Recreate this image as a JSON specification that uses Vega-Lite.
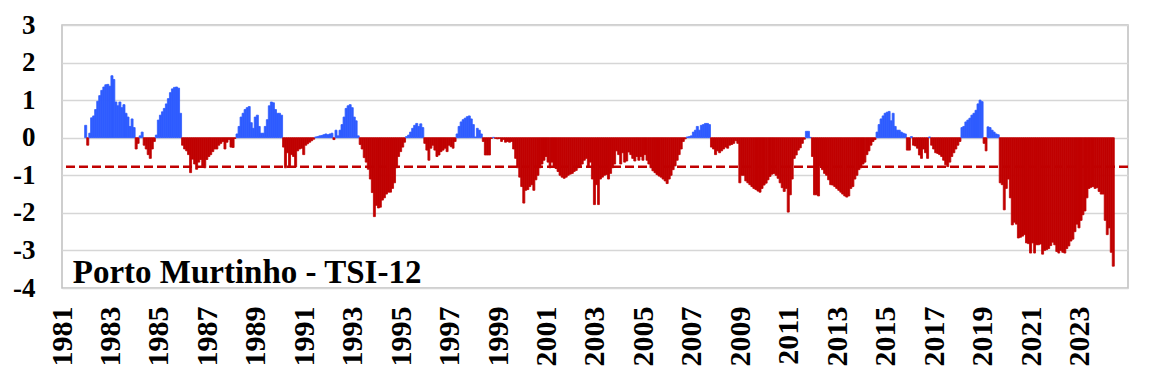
{
  "$schema": "https://vega.github.io/schema/vega-lite/v6.json",
  "width": 1066,
  "height": 263,
  "autosize": {"type": "none"},
  "padding": {"left": 62, "top": 25, "right": 22, "bottom": 95},
  "background": "white",
  "config": {
    "view": {"stroke": "#bfbfbf", "strokeWidth": 1.5},
    "axis": {"labelFont": "Liberation Serif", "labelFontWeight": "bold", "labelColor": "#000000"},
    "axisY": {
      "title": null, "labelFontSize": 27, "labelPadding": 27, "labelOverlap": false,
      "ticks": false, "domain": false, "grid": true, "gridColor": "#d6d6d6", "gridWidth": 1.5, "labelBound": false, "labelFlush": false
    }
  },
  "layer": [
    {
      "data": {"values": [{"v": -0.77}]},
      "mark": {"type": "rule", "color": "#c00000", "strokeDash": [9, 4], "strokeWidth": 2.5},
      "encoding": {
        "y": {
          "field": "v", "type": "quantitative",
          "scale": {"domain": [-4, 3], "nice": false, "zero": false},
          "axis": {"values": [-4, -3, -2, -1, 0, 1, 2, 3], "labelExpr": "'' + datum.value", "labelOverlap": false}
        }
      }
    },
    {
      "data": {
        "format": {"parse": {"d": "utc:'%Y-%m'"}},
        "values": [
{"d":"1981-12","v":0.33},
{"d":"1982-01","v":-0.2},{"d":"1982-02","v":0.12},{"d":"1982-03","v":0.53},{"d":"1982-04","v":0.58},{"d":"1982-05","v":0.75},{"d":"1982-06","v":0.97},{"d":"1982-07","v":1.12},{"d":"1982-08","v":1.26},{"d":"1982-09","v":1.35},{"d":"1982-10","v":1.41},{"d":"1982-11","v":1.42},{"d":"1982-12","v":1.37},
{"d":"1983-01","v":1.65},{"d":"1983-02","v":1.55},{"d":"1983-03","v":0.95},{"d":"1983-04","v":0.85},{"d":"1983-05","v":0.95},{"d":"1983-06","v":0.8},{"d":"1983-07","v":0.88},{"d":"1983-08","v":0.65},{"d":"1983-09","v":0.55},{"d":"1983-10","v":0.3},{"d":"1983-11","v":0.5},{"d":"1983-12","v":0.27},
{"d":"1984-01","v":-0.3},{"d":"1984-02","v":-0.15},{"d":"1984-03","v":0.05},{"d":"1984-04","v":0.15},{"d":"1984-05","v":-0.2},{"d":"1984-06","v":-0.3},{"d":"1984-07","v":-0.45},{"d":"1984-08","v":-0.55},{"d":"1984-09","v":-0.3},{"d":"1984-10","v":-0.1},{"d":"1984-11","v":0.07},{"d":"1984-12","v":0.47},
{"d":"1985-01","v":0.6},{"d":"1985-02","v":0.69},{"d":"1985-03","v":0.78},{"d":"1985-04","v":0.9},{"d":"1985-05","v":1.04},{"d":"1985-06","v":1.2},{"d":"1985-07","v":1.3},{"d":"1985-08","v":1.34},{"d":"1985-09","v":1.35},{"d":"1985-10","v":1.32},{"d":"1985-11","v":0.65},{"d":"1985-12","v":-0.2},
{"d":"1986-01","v":-0.3},{"d":"1986-02","v":-0.35},{"d":"1986-03","v":-0.45},{"d":"1986-04","v":-0.93},{"d":"1986-05","v":-0.57},{"d":"1986-06","v":-0.7},{"d":"1986-07","v":-0.84},{"d":"1986-08","v":-0.65},{"d":"1986-09","v":-0.58},{"d":"1986-10","v":-0.75},{"d":"1986-11","v":-0.8},{"d":"1986-12","v":-0.58},
{"d":"1987-01","v":-0.5},{"d":"1987-02","v":-0.45},{"d":"1987-03","v":-0.37},{"d":"1987-04","v":-0.3},{"d":"1987-05","v":-0.3},{"d":"1987-06","v":-0.2},{"d":"1987-07","v":-0.15},{"d":"1987-08","v":-0.1},{"d":"1987-09","v":-0.3},{"d":"1987-10","v":-0.12},{"d":"1987-11","v":-0.05},{"d":"1987-12","v":-0.25},
{"d":"1988-01","v":-0.26},{"d":"1988-02","v":-0.02},{"d":"1988-03","v":0.1},{"d":"1988-04","v":0.3},{"d":"1988-05","v":0.55},{"d":"1988-06","v":0.65},{"d":"1988-07","v":0.75},{"d":"1988-08","v":0.8},{"d":"1988-09","v":0.83},{"d":"1988-10","v":0.4},{"d":"1988-11","v":0.25},{"d":"1988-12","v":0.55},
{"d":"1989-01","v":0.6},{"d":"1989-02","v":0.3},{"d":"1989-03","v":0.12},{"d":"1989-04","v":0.12},{"d":"1989-05","v":0.3},{"d":"1989-06","v":0.48},{"d":"1989-07","v":0.85},{"d":"1989-08","v":0.95},{"d":"1989-09","v":0.93},{"d":"1989-10","v":0.75},{"d":"1989-11","v":0.65},{"d":"1989-12","v":0.65},
{"d":"1990-01","v":0.6},{"d":"1990-02","v":-0.25},{"d":"1990-03","v":-0.8},{"d":"1990-04","v":-0.4},{"d":"1990-05","v":-0.78},{"d":"1990-06","v":-0.45},{"d":"1990-07","v":-0.5},{"d":"1990-08","v":-0.78},{"d":"1990-09","v":-0.35},{"d":"1990-10","v":-0.3},{"d":"1990-11","v":-0.28},{"d":"1990-12","v":-0.45},
{"d":"1991-01","v":-0.2},{"d":"1991-02","v":-0.16},{"d":"1991-03","v":-0.12},{"d":"1991-04","v":-0.08},{"d":"1991-05","v":-0.04},{"d":"1991-06","v":0.02},{"d":"1991-07","v":0.03},{"d":"1991-08","v":0.05},{"d":"1991-09","v":0.06},{"d":"1991-10","v":0.08},{"d":"1991-11","v":0.1},{"d":"1991-12","v":0.08},
{"d":"1992-01","v":0.1},{"d":"1992-02","v":0.12},{"d":"1992-03","v":-0.05},{"d":"1992-04","v":0.2},{"d":"1992-05","v":0.05},{"d":"1992-06","v":0.2},{"d":"1992-07","v":0.35},{"d":"1992-08","v":0.55},{"d":"1992-09","v":0.78},{"d":"1992-10","v":0.85},{"d":"1992-11","v":0.88},{"d":"1992-12","v":0.8},
{"d":"1993-01","v":0.55},{"d":"1993-02","v":0.45},{"d":"1993-03","v":0.05},{"d":"1993-04","v":-0.18},{"d":"1993-05","v":-0.3},{"d":"1993-06","v":-0.53},{"d":"1993-07","v":-0.65},{"d":"1993-08","v":-0.84},{"d":"1993-09","v":-1.1},{"d":"1993-10","v":-1.46},{"d":"1993-11","v":-2.1},{"d":"1993-12","v":-1.8},
{"d":"1994-01","v":-1.87},{"d":"1994-02","v":-1.85},{"d":"1994-03","v":-1.66},{"d":"1994-04","v":-1.6},{"d":"1994-05","v":-1.5},{"d":"1994-06","v":-1.45},{"d":"1994-07","v":-1.45},{"d":"1994-08","v":-1.35},{"d":"1994-09","v":-1.2},{"d":"1994-10","v":-0.8},{"d":"1994-11","v":-0.5},{"d":"1994-12","v":-0.37},
{"d":"1995-01","v":-0.25},{"d":"1995-02","v":-0.12},{"d":"1995-03","v":0.03},{"d":"1995-04","v":0.07},{"d":"1995-05","v":0.15},{"d":"1995-06","v":0.25},{"d":"1995-07","v":0.33},{"d":"1995-08","v":0.38},{"d":"1995-09","v":0.3},{"d":"1995-10","v":0.37},{"d":"1995-11","v":0.27},{"d":"1995-12","v":-0.15},
{"d":"1996-01","v":-0.33},{"d":"1996-02","v":-0.6},{"d":"1996-03","v":-0.28},{"d":"1996-04","v":-0.2},{"d":"1996-05","v":-0.33},{"d":"1996-06","v":-0.5},{"d":"1996-07","v":-0.46},{"d":"1996-08","v":-0.37},{"d":"1996-09","v":-0.33},{"d":"1996-10","v":-0.28},{"d":"1996-11","v":-0.37},{"d":"1996-12","v":-0.2},
{"d":"1997-01","v":-0.24},{"d":"1997-02","v":-0.28},{"d":"1997-03","v":-0.1},{"d":"1997-04","v":0.1},{"d":"1997-05","v":0.3},{"d":"1997-06","v":0.42},{"d":"1997-07","v":0.48},{"d":"1997-08","v":0.52},{"d":"1997-09","v":0.56},{"d":"1997-10","v":0.58},{"d":"1997-11","v":0.5},{"d":"1997-12","v":0.35},
{"d":"1998-01","v":0.02},{"d":"1998-02","v":0.25},{"d":"1998-03","v":0.2},{"d":"1998-04","v":0.1},{"d":"1998-05","v":-0.1},{"d":"1998-06","v":-0.46},{"d":"1998-07","v":-0.46},{"d":"1998-08","v":-0.46},{"d":"1998-09","v":-0.02},{"d":"1998-10","v":0.01},{"d":"1998-11","v":-0.02},{"d":"1998-12","v":-0.03},
{"d":"1999-01","v":-0.02},{"d":"1999-02","v":-0.1},{"d":"1999-03","v":-0.05},{"d":"1999-04","v":-0.12},{"d":"1999-05","v":-0.1},{"d":"1999-06","v":-0.12},{"d":"1999-07","v":-0.1},{"d":"1999-08","v":-0.3},{"d":"1999-09","v":-0.55},{"d":"1999-10","v":-0.8},{"d":"1999-11","v":-1.05},{"d":"1999-12","v":-1.3},
{"d":"2000-01","v":-1.74},{"d":"2000-02","v":-1.4},{"d":"2000-03","v":-1.38},{"d":"2000-04","v":-1.3},{"d":"2000-05","v":-1.25},{"d":"2000-06","v":-1.4},{"d":"2000-07","v":-1.12},{"d":"2000-08","v":-1.0},{"d":"2000-09","v":-0.8},{"d":"2000-10","v":-0.7},{"d":"2000-11","v":-0.6},{"d":"2000-12","v":-0.5},
{"d":"2001-01","v":-0.65},{"d":"2001-02","v":-0.8},{"d":"2001-03","v":-0.65},{"d":"2001-04","v":-0.78},{"d":"2001-05","v":-0.82},{"d":"2001-06","v":-0.9},{"d":"2001-07","v":-1.0},{"d":"2001-08","v":-1.05},{"d":"2001-09","v":-1.08},{"d":"2001-10","v":-1.05},{"d":"2001-11","v":-1.0},{"d":"2001-12","v":-0.97},
{"d":"2002-01","v":-0.95},{"d":"2002-02","v":-0.9},{"d":"2002-03","v":-0.87},{"d":"2002-04","v":-0.8},{"d":"2002-05","v":-0.75},{"d":"2002-06","v":-0.7},{"d":"2002-07","v":-0.6},{"d":"2002-08","v":-0.55},{"d":"2002-09","v":-0.77},{"d":"2002-10","v":-0.65},{"d":"2002-11","v":-1.1},{"d":"2002-12","v":-1.78},
{"d":"2003-01","v":-1.25},{"d":"2003-02","v":-1.78},{"d":"2003-03","v":-1.1},{"d":"2003-04","v":-1.05},{"d":"2003-05","v":-1.0},{"d":"2003-06","v":-0.98},{"d":"2003-07","v":-1.1},{"d":"2003-08","v":-0.95},{"d":"2003-09","v":-0.8},{"d":"2003-10","v":-0.7},{"d":"2003-11","v":-0.35},{"d":"2003-12","v":-0.45},
{"d":"2004-01","v":-0.7},{"d":"2004-02","v":-0.4},{"d":"2004-03","v":-0.65},{"d":"2004-04","v":-0.62},{"d":"2004-05","v":-0.38},{"d":"2004-06","v":-0.45},{"d":"2004-07","v":-0.55},{"d":"2004-08","v":-0.62},{"d":"2004-09","v":-0.5},{"d":"2004-10","v":-0.6},{"d":"2004-11","v":-0.5},{"d":"2004-12","v":-0.6},
{"d":"2005-01","v":-0.45},{"d":"2005-02","v":-0.6},{"d":"2005-03","v":-0.7},{"d":"2005-04","v":-0.8},{"d":"2005-05","v":-0.88},{"d":"2005-06","v":-0.93},{"d":"2005-07","v":-0.98},{"d":"2005-08","v":-1.02},{"d":"2005-09","v":-1.05},{"d":"2005-10","v":-1.1},{"d":"2005-11","v":-1.15},{"d":"2005-12","v":-1.22},
{"d":"2006-01","v":-1.1},{"d":"2006-02","v":-1.0},{"d":"2006-03","v":-0.85},{"d":"2006-04","v":-0.75},{"d":"2006-05","v":-0.6},{"d":"2006-06","v":-0.45},{"d":"2006-07","v":-0.3},{"d":"2006-08","v":-0.1},{"d":"2006-09","v":-0.03},{"d":"2006-10","v":0.02},{"d":"2006-11","v":0.03},{"d":"2006-12","v":0.05},
{"d":"2007-01","v":0.15},{"d":"2007-02","v":0.2},{"d":"2007-03","v":0.3},{"d":"2007-04","v":0.2},{"d":"2007-05","v":0.33},{"d":"2007-06","v":0.35},{"d":"2007-07","v":0.38},{"d":"2007-08","v":0.38},{"d":"2007-09","v":0.35},{"d":"2007-10","v":-0.25},{"d":"2007-11","v":-0.3},{"d":"2007-12","v":-0.45},
{"d":"2008-01","v":-0.35},{"d":"2008-02","v":-0.4},{"d":"2008-03","v":-0.35},{"d":"2008-04","v":-0.3},{"d":"2008-05","v":-0.25},{"d":"2008-06","v":-0.28},{"d":"2008-07","v":-0.2},{"d":"2008-08","v":-0.18},{"d":"2008-09","v":-0.15},{"d":"2008-10","v":-0.08},{"d":"2008-11","v":-0.15},{"d":"2008-12","v":-1.2},
{"d":"2009-01","v":-1.0},{"d":"2009-02","v":-1.0},{"d":"2009-03","v":-1.15},{"d":"2009-04","v":-1.2},{"d":"2009-05","v":-1.25},{"d":"2009-06","v":-1.3},{"d":"2009-07","v":-1.35},{"d":"2009-08","v":-1.38},{"d":"2009-09","v":-1.42},{"d":"2009-10","v":-1.45},{"d":"2009-11","v":-1.35},{"d":"2009-12","v":-1.26},
{"d":"2010-01","v":-1.21},{"d":"2010-02","v":-1.12},{"d":"2010-03","v":-1.03},{"d":"2010-04","v":-0.97},{"d":"2010-05","v":-0.95},{"d":"2010-06","v":-1.0},{"d":"2010-07","v":-1.08},{"d":"2010-08","v":-1.2},{"d":"2010-09","v":-1.33},{"d":"2010-10","v":-1.43},{"d":"2010-11","v":-1.35},{"d":"2010-12","v":-1.98},
{"d":"2011-01","v":-1.52},{"d":"2011-02","v":-1.1},{"d":"2011-03","v":-0.55},{"d":"2011-04","v":-0.46},{"d":"2011-05","v":-0.33},{"d":"2011-06","v":-0.27},{"d":"2011-07","v":-0.15},{"d":"2011-08","v":-0.04},{"d":"2011-09","v":0.17},{"d":"2011-10","v":0.17},{"d":"2011-11","v":0.01},{"d":"2011-12","v":-0.5},
{"d":"2012-01","v":-1.52},{"d":"2012-02","v":-1.52},{"d":"2012-03","v":-1.55},{"d":"2012-04","v":-0.75},{"d":"2012-05","v":-0.85},{"d":"2012-06","v":-0.95},{"d":"2012-07","v":-1.0},{"d":"2012-08","v":-1.12},{"d":"2012-09","v":-1.25},{"d":"2012-10","v":-1.26},{"d":"2012-11","v":-1.3},{"d":"2012-12","v":-1.35},
{"d":"2013-01","v":-1.4},{"d":"2013-02","v":-1.45},{"d":"2013-03","v":-1.5},{"d":"2013-04","v":-1.55},{"d":"2013-05","v":-1.58},{"d":"2013-06","v":-1.55},{"d":"2013-07","v":-1.35},{"d":"2013-08","v":-1.3},{"d":"2013-09","v":-1.1},{"d":"2013-10","v":-1.0},{"d":"2013-11","v":-0.85},{"d":"2013-12","v":-0.8},
{"d":"2014-01","v":-0.7},{"d":"2014-02","v":-0.65},{"d":"2014-03","v":-0.45},{"d":"2014-04","v":-0.35},{"d":"2014-05","v":-0.2},{"d":"2014-06","v":-0.1},{"d":"2014-07","v":-0.05},{"d":"2014-08","v":0.15},{"d":"2014-09","v":0.35},{"d":"2014-10","v":0.5},{"d":"2014-11","v":0.58},{"d":"2014-12","v":0.65},
{"d":"2015-01","v":0.68},{"d":"2015-02","v":0.7},{"d":"2015-03","v":0.45},{"d":"2015-04","v":0.65},{"d":"2015-05","v":0.3},{"d":"2015-06","v":0.2},{"d":"2015-07","v":0.2},{"d":"2015-08","v":0.15},{"d":"2015-09","v":0.12},{"d":"2015-10","v":0.1},{"d":"2015-11","v":-0.33},{"d":"2015-12","v":-0.33},
{"d":"2016-01","v":0.03},{"d":"2016-02","v":-0.2},{"d":"2016-03","v":-0.22},{"d":"2016-04","v":-0.28},{"d":"2016-05","v":-0.46},{"d":"2016-06","v":-0.55},{"d":"2016-07","v":-0.3},{"d":"2016-08","v":-0.4},{"d":"2016-09","v":-0.55},{"d":"2016-10","v":0.02},{"d":"2016-11","v":-0.2},{"d":"2016-12","v":-0.3},
{"d":"2017-01","v":-0.4},{"d":"2017-02","v":-0.42},{"d":"2017-03","v":-0.45},{"d":"2017-04","v":-0.5},{"d":"2017-05","v":-0.6},{"d":"2017-06","v":-0.72},{"d":"2017-07","v":-0.77},{"d":"2017-08","v":-0.65},{"d":"2017-09","v":-0.5},{"d":"2017-10","v":-0.4},{"d":"2017-11","v":-0.3},{"d":"2017-12","v":-0.2},
{"d":"2018-01","v":-0.1},{"d":"2018-02","v":0.27},{"d":"2018-03","v":0.3},{"d":"2018-04","v":0.42},{"d":"2018-05","v":0.47},{"d":"2018-06","v":0.52},{"d":"2018-07","v":0.6},{"d":"2018-08","v":0.65},{"d":"2018-09","v":0.73},{"d":"2018-10","v":0.9},{"d":"2018-11","v":1.0},{"d":"2018-12","v":0.96},
{"d":"2019-01","v":-0.15},{"d":"2019-02","v":-0.35},{"d":"2019-03","v":0.29},{"d":"2019-04","v":0.27},{"d":"2019-05","v":0.2},{"d":"2019-06","v":0.15},{"d":"2019-07","v":0.1},{"d":"2019-08","v":0.08},{"d":"2019-09","v":-1.2},{"d":"2019-10","v":-1.25},{"d":"2019-11","v":-1.92},{"d":"2019-12","v":-1.35},
{"d":"2020-01","v":-1.1},{"d":"2020-02","v":-1.6},{"d":"2020-03","v":-2.32},{"d":"2020-04","v":-2.25},{"d":"2020-05","v":-2.3},{"d":"2020-06","v":-2.67},{"d":"2020-07","v":-2.65},{"d":"2020-08","v":-2.62},{"d":"2020-09","v":-2.58},{"d":"2020-10","v":-2.8},{"d":"2020-11","v":-2.82},{"d":"2020-12","v":-3.07},
{"d":"2021-01","v":-2.8},{"d":"2021-02","v":-3.07},{"d":"2021-03","v":-2.85},{"d":"2021-04","v":-2.85},{"d":"2021-05","v":-2.83},{"d":"2021-06","v":-3.1},{"d":"2021-07","v":-3.0},{"d":"2021-08","v":-2.98},{"d":"2021-09","v":-2.95},{"d":"2021-10","v":-2.87},{"d":"2021-11","v":-2.78},{"d":"2021-12","v":-2.85},
{"d":"2022-01","v":-3.03},{"d":"2022-02","v":-3.07},{"d":"2022-03","v":-3.0},{"d":"2022-04","v":-3.05},{"d":"2022-05","v":-3.07},{"d":"2022-06","v":-2.95},{"d":"2022-07","v":-2.88},{"d":"2022-08","v":-2.75},{"d":"2022-09","v":-2.7},{"d":"2022-10","v":-2.5},{"d":"2022-11","v":-2.3},{"d":"2022-12","v":-2.4},
{"d":"2023-01","v":-2.2},{"d":"2023-02","v":-2.05},{"d":"2023-03","v":-1.95},{"d":"2023-04","v":-1.6},{"d":"2023-05","v":-1.35},{"d":"2023-06","v":-1.32},{"d":"2023-07","v":-1.3},{"d":"2023-08","v":-1.35},{"d":"2023-09","v":-1.33},{"d":"2023-10","v":-1.43},{"d":"2023-11","v":-1.5},{"d":"2023-12","v":-1.5},
{"d":"2024-01","v":-2.2},{"d":"2024-02","v":-2.58},{"d":"2024-03","v":-2.4},{"d":"2024-04","v":-3.05},{"d":"2024-05","v":-3.42}
        ]
      },
      "mark": {"type": "bar", "binSpacing": 0, "strokeWidth": 0.8},
      "encoding": {
        "x": {
          "field": "d", "type": "temporal", "timeUnit": "utcyearmonth",
          "scale": {"domain": [{"year": 1981, "month": 1, "date": 1, "utc": true}, {"year": 2025, "month": 1, "date": 1, "utc": true}]},
          "axis": {
            "title": null, "format": "%Y", "labelAngle": -90, "labelFontSize": 30, "labelPadding": 18,
            "ticks": false, "domain": false, "grid": false, "labelOverlap": false, "labelBound": false, "labelFlush": false,
            "values": [
              {"year": 1981, "month": 1, "date": 1, "utc": true}, {"year": 1983, "month": 1, "date": 1, "utc": true},
              {"year": 1985, "month": 1, "date": 1, "utc": true}, {"year": 1987, "month": 1, "date": 1, "utc": true},
              {"year": 1989, "month": 1, "date": 1, "utc": true}, {"year": 1991, "month": 1, "date": 1, "utc": true},
              {"year": 1993, "month": 1, "date": 1, "utc": true}, {"year": 1995, "month": 1, "date": 1, "utc": true},
              {"year": 1997, "month": 1, "date": 1, "utc": true}, {"year": 1999, "month": 1, "date": 1, "utc": true},
              {"year": 2001, "month": 1, "date": 1, "utc": true}, {"year": 2003, "month": 1, "date": 1, "utc": true},
              {"year": 2005, "month": 1, "date": 1, "utc": true}, {"year": 2007, "month": 1, "date": 1, "utc": true},
              {"year": 2009, "month": 1, "date": 1, "utc": true}, {"year": 2011, "month": 1, "date": 1, "utc": true},
              {"year": 2013, "month": 1, "date": 1, "utc": true}, {"year": 2015, "month": 1, "date": 1, "utc": true},
              {"year": 2017, "month": 1, "date": 1, "utc": true}, {"year": 2019, "month": 1, "date": 1, "utc": true},
              {"year": 2021, "month": 1, "date": 1, "utc": true}, {"year": 2023, "month": 1, "date": 1, "utc": true}
            ]
          }
        },
        "y": {
          "field": "v", "type": "quantitative",
          "scale": {"domain": [-4, 3], "nice": false, "zero": false},
          "axis": {"values": [-4, -3, -2, -1, 0, 1, 2, 3], "labelExpr": "'' + datum.value", "labelOverlap": false}
        },
        "color": {"condition": {"test": "datum.v >= 0", "value": "#2f5cff"}, "value": "#c00000"},
        "stroke": {"condition": {"test": "datum.v >= 0", "value": "#2f5cff"}, "value": "#c00000"}
      }
    },
    {
      "data": {"values": [{"label": "Porto Murtinho - TSI-12"}]},
      "mark": {"type": "text", "align": "left", "baseline": "alphabetic", "font": "Liberation Serif", "fontSize": 33, "fontWeight": "bold", "color": "#000000"},
      "encoding": {
        "x": {"datum": {"year": 1981, "month": 6, "date": 12, "utc": true}, "type": "temporal"},
        "y": {
          "datum": -3.86, "type": "quantitative",
          "axis": {"values": [-4, -3, -2, -1, 0, 1, 2, 3], "labelExpr": "'' + datum.value", "labelOverlap": false}
        },
        "text": {"field": "label"}
      }
    }
  ]
}
